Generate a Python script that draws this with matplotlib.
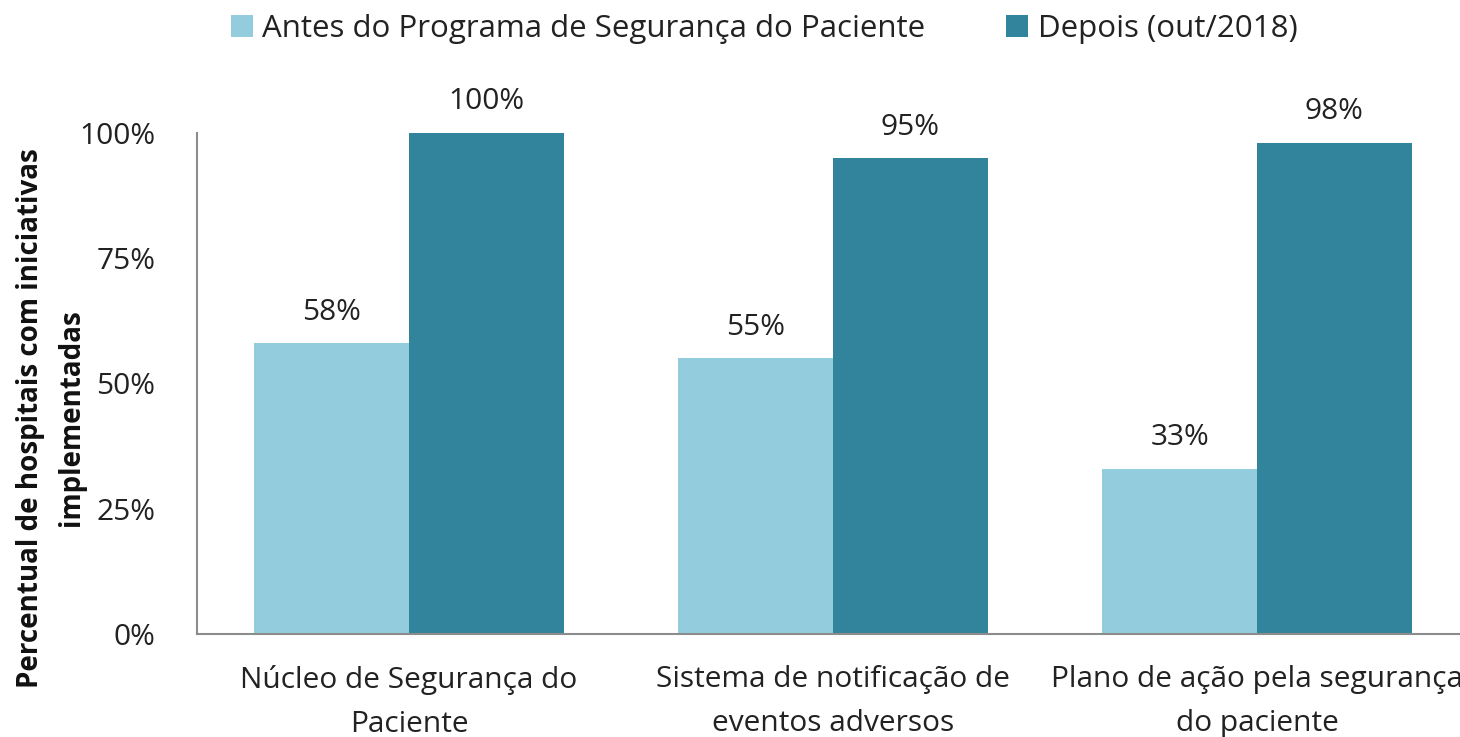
import numpy as np
import matplotlib.pyplot as plt
from matplotlib.ticker import FuncFormatter

categories = ['Núcleo de Segurança do\nPaciente',
              'Sistema de notificação de\neventos adversos',
              'Plano de ação pela segurança\ndo paciente']
antes = [58, 55, 33]
depois = [100, 95, 98]
series_names = ['Antes do Programa de Segurança do Paciente', 'Depois (out/2018)']

plt.rcParams['font.family'] = ['Open Sans', 'DejaVu Sans']

fig = plt.figure(figsize=(14.6, 7.37), dpi=100)
ax = fig.add_axes([197 / 1460, 1 - 634 / 737, 1272 / 1460, 501 / 737])

x = np.arange(len(categories))
w = 0.365
b1 = ax.bar(x - w / 2, antes, w, color='#93CDDD', label=series_names[0])
b2 = ax.bar(x + w / 2, depois, w, color='#31849B', label=series_names[1])

# value labels above bars
for bars, vals in [(b1, antes), (b2, depois)]:
    for r, v in zip(bars, vals):
        ax.text(r.get_x() + r.get_width() / 2, v + 3.3, f'{v}%', ha='center', va='bottom',
                fontsize=21.5, color='#222222', clip_on=False)

ax.set_xlim(-0.5, 2.5)
ax.set_ylim(0, 100)
ax.set_yticks([0, 25, 50, 75, 100])
ax.yaxis.set_major_formatter(FuncFormatter(lambda v, p: f'{int(v)}%'))
ax.set_xticks(x)
ax.set_xticklabels(categories, linespacing=1.7)
ax.tick_params(axis='y', length=0, pad=30, labelsize=21.5, labelcolor='#222222')
ax.tick_params(axis='x', length=0, pad=22, labelsize=21.5, labelcolor='#222222')

for s in ['top', 'right']:
    ax.spines[s].set_visible(False)
for s in ['left', 'bottom']:
    ax.spines[s].set_color('#8c8c8c')
    ax.spines[s].set_linewidth(1.5)

fig.text(51 / 1460, 1 - 418 / 737, 'Percentual de hospitais com iniciativas\nimplementadas',
         rotation=90, ha='center', va='center', fontsize=20, fontweight='bold',
         linespacing=1.5, color='#111111')

fig.legend(loc='center', bbox_to_anchor=(764 / 1460, 1 - 29 / 737), ncol=2, frameon=False,
           fontsize=22.5, handlelength=0.7, handleheight=0.7, handletextpad=0.3,
           columnspacing=2.6, labelcolor='#222222')

fig.savefig('out.png', dpi=100)
